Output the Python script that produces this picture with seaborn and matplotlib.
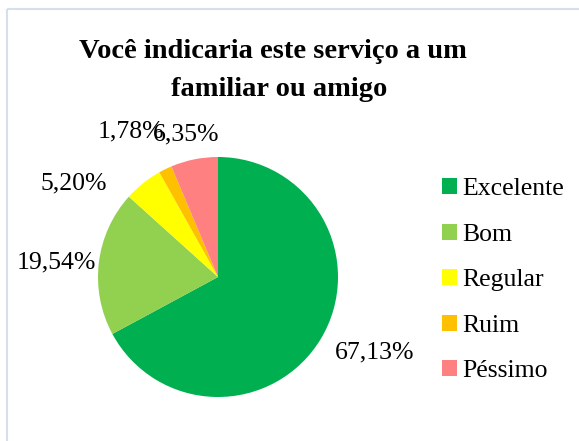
import matplotlib
matplotlib.use("Agg")
import matplotlib.pyplot as plt
from matplotlib.patches import Rectangle
import numpy as np
import seaborn as sns

categories = ["Excelente", "Bom", "Regular", "Ruim", "Péssimo"]
values = [67.13, 19.54, 5.20, 1.78, 6.35]
colors = ["#00B050", "#92D050", "#FFFF00", "#FFC000", "#FF8080"]
pct_labels = ["67,13%", "19,54%", "5,20%", "1,78%", "6,35%"]

# radial distance (in radii) and angular nudge (deg, screen counter-clockwise)
label_dist = [1.45, 1.35, 1.43, 1.41, 1.22]
label_shift = [5.0, 1.6, 18.4, 4.9, 1.1]

sns.set_theme(style="white")
plt.rcParams["font.family"] = ["Liberation Serif", "DejaVu Serif"]
plt.rcParams["text.color"] = "black"

W, H = 579, 441
fig = plt.figure(figsize=(W / 100, H / 100), dpi=100)
ax = fig.add_axes([0, 0, 1, 1])

cx, cy, r = 218, 277, 120
# y axis runs downward, so a data-space counter-clockwise sweep from -90°
# appears clockwise from 12 o'clock on screen
wedges, _ = ax.pie(values, colors=colors, startangle=-90, counterclock=True,
                   center=(cx, cy), radius=r, wedgeprops=dict(linewidth=0),
                   frame=True)
ax.set_xlim(0, W)
ax.set_ylim(H, 0)
ax.set_aspect("equal")
ax.axis("off")

# chart frame
ax.add_patch(Rectangle((7, 9), W, H, fill=False, edgecolor="#D6E0EC", linewidth=1.5))

for w, lab, d, s in zip(wedges, pct_labels, label_dist, label_shift):
    mid = np.deg2rad((w.theta1 + w.theta2) / 2 - s)
    x = cx + d * r * np.cos(mid)
    y = cy + d * r * np.sin(mid)
    ax.text(x, y, lab, ha="center", va="center", fontsize=18.5, color="black")

ax.text(273, 51, "Você indicaria este serviço a um", ha="center", va="center",
        fontsize=20.5, fontweight="bold", color="black")
ax.text(279, 89, "familiar ou amigo", ha="center", va="center",
        fontsize=20.5, fontweight="bold", color="black")

handles = [Rectangle((0, 0), 1, 1, facecolor=c, edgecolor="none") for c in colors]
leg = fig.legend(handles, categories, loc="upper left", bbox_to_anchor=(432 / W, 1 - 168 / H),
                 frameon=False, fontsize=18.5, handlelength=0.58, handleheight=0.58,
                 handletextpad=0.2, labelspacing=0.91, borderaxespad=0,
                 labelcolor="black")

fig.savefig("out.png", dpi=100)
